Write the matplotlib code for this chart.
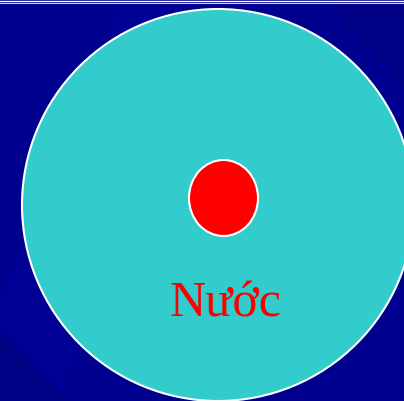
import matplotlib
matplotlib.use("Agg")
import matplotlib.pyplot as plt
from matplotlib.patches import Circle, Ellipse, Polygon

labels = ["Nước"]

W, H = 404, 402
fig = plt.figure(figsize=(W / 100, H / 100), dpi=100)
ax = fig.add_axes([0, 0, 1, 1])
ax.set_xlim(0, W)
ax.set_ylim(H, 0)
ax.axis("off")

bg = "#00008f"
ax.add_patch(Polygon([[0, 0], [W, 0], [W, H], [0, H]], closed=True, facecolor=bg, edgecolor="none"))
# subtle background streaks
ax.add_patch(Polygon([[120, 4], [200, 4], [60, 402], [0, 402], [0, 300]], closed=True,
                     facecolor="#00009a", edgecolor="none", alpha=0.5))
ax.add_patch(Polygon([[330, 4], [404, 4], [404, 90]], closed=True,
                     facecolor="#00007c", edgecolor="none", alpha=0.5))
ax.add_patch(Polygon([[0, 330], [0, 402], [70, 402]], closed=True,
                     facecolor="#000078", edgecolor="none", alpha=0.5))

# top double line
ax.plot([0, W], [1.5, 1.5], color="white", lw=1.0)
ax.plot([0, W], [3.5, 3.5], color="#c8c8ff", lw=0.8)

ax.add_patch(Circle((218, 206), 196, facecolor="#33cccc", edgecolor="white", lw=1.5))
ax.add_patch(Ellipse((223.5, 199), 69, 76, facecolor="#ff0000", edgecolor="white", lw=1.5))

ax.text(225, 304, labels[0], color="#ff0000", fontsize=36, family=["Liberation Serif", "DejaVu Serif"],
        ha="center", va="center")

fig.savefig("out.png", dpi=100, facecolor=bg)
